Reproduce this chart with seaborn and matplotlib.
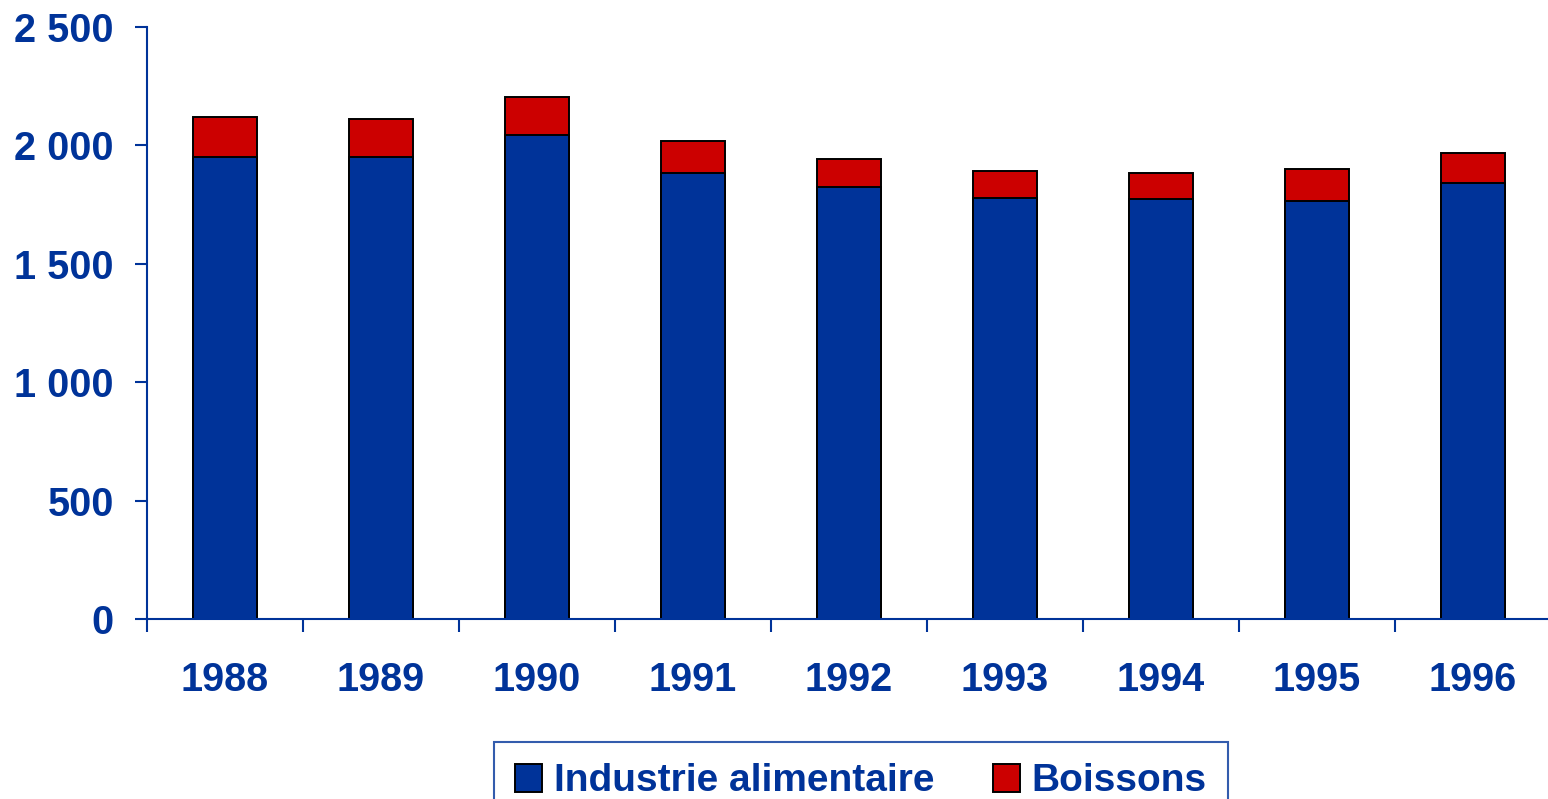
import pandas as pd
import matplotlib.pyplot as plt
import seaborn as sns
from matplotlib.patches import Patch
from matplotlib.ticker import FuncFormatter

years = ['1988', '1989', '1990', '1991', '1992', '1993', '1994', '1995', '1996']
industrie = [1949, 1949, 2043, 1882, 1823, 1779, 1771, 1764, 1839]
boissons = [169, 160, 159, 134, 118, 111, 111, 134, 127]

BLUE = '#003399'
RED = '#CC0000'


def main():
    sns.set_style('white')
    plt.rcParams['font.family'] = ['Liberation Sans', 'DejaVu Sans']

    df = pd.DataFrame({'year': years, 'industrie': industrie, 'boissons': boissons})
    df['total'] = df['industrie'] + df['boissons']

    fig = plt.figure(figsize=(15.48, 7.99), dpi=100)
    ax = fig.add_axes([147 / 1548, 1 - 619 / 799, 1404 / 1548, (619 - 26.7) / 799])

    # stacked bars: total in red, then the blue part on top of it
    sns.barplot(data=df, x='year', y='total', color=RED, width=0.41,
                edgecolor='black', linewidth=1.4, saturation=1, ax=ax)
    sns.barplot(data=df, x='year', y='industrie', color=BLUE, width=0.41,
                edgecolor='black', linewidth=1.4, saturation=1, ax=ax)

    ax.set_xlim(-0.5, len(years) - 0.5)
    ax.set_ylim(0, 2500)
    ax.set_yticks(range(0, 2501, 500))
    ax.yaxis.set_major_formatter(FuncFormatter(lambda v, p: f'{int(v):,}'.replace(',', ' ')))
    ax.set_xlabel('')
    ax.set_ylabel('')

    for side in ['top', 'right']:
        ax.spines[side].set_visible(False)
    for side in ['left', 'bottom']:
        ax.spines[side].set_color(BLUE)
        ax.spines[side].set_linewidth(1.5)

    # x ticks sit between categories, labels at the centres
    ax.set_xticks([i - 0.5 for i in range(len(years) + 1)])
    ax.set_xticklabels([])
    ax.set_xticks(range(len(years)), minor=True)
    ax.set_xticklabels(years, minor=True)
    ax.tick_params(axis='x', which='major', direction='out', length=9, width=1.5,
                   color=BLUE, bottom=True)
    ax.tick_params(axis='x', which='minor', length=0, pad=30, labelsize=28.5,
                   labelcolor=BLUE)
    ax.tick_params(axis='y', direction='out', length=9, width=1.5, color=BLUE,
                   left=True, pad=15, labelsize=28.5, labelcolor=BLUE)
    for lbl in ax.get_xticklabels(minor=True) + ax.get_yticklabels():
        lbl.set_fontweight('bold')

    handles = [Patch(facecolor=BLUE, edgecolor='black', linewidth=1.4),
               Patch(facecolor=RED, edgecolor='black', linewidth=1.4)]
    leg = fig.legend(handles, ['Industrie alimentaire', 'Boissons'],
                     loc='upper center', bbox_to_anchor=(861 / 1548, 1 - 742 / 799),
                     ncol=2, frameon=True, fancybox=False, borderpad=0.55,
                     borderaxespad=0, handlelength=0.7, handleheight=0.75,
                     handletextpad=0.3, columnspacing=1.5,
                     prop={'weight': 'bold', 'size': 28})
    leg.get_frame().set_edgecolor(BLUE)
    leg.get_frame().set_linewidth(1.5)
    for t in leg.get_texts():
        t.set_color(BLUE)

    fig.savefig('out.png', dpi=100)


if __name__ == '__main__':
    main()
